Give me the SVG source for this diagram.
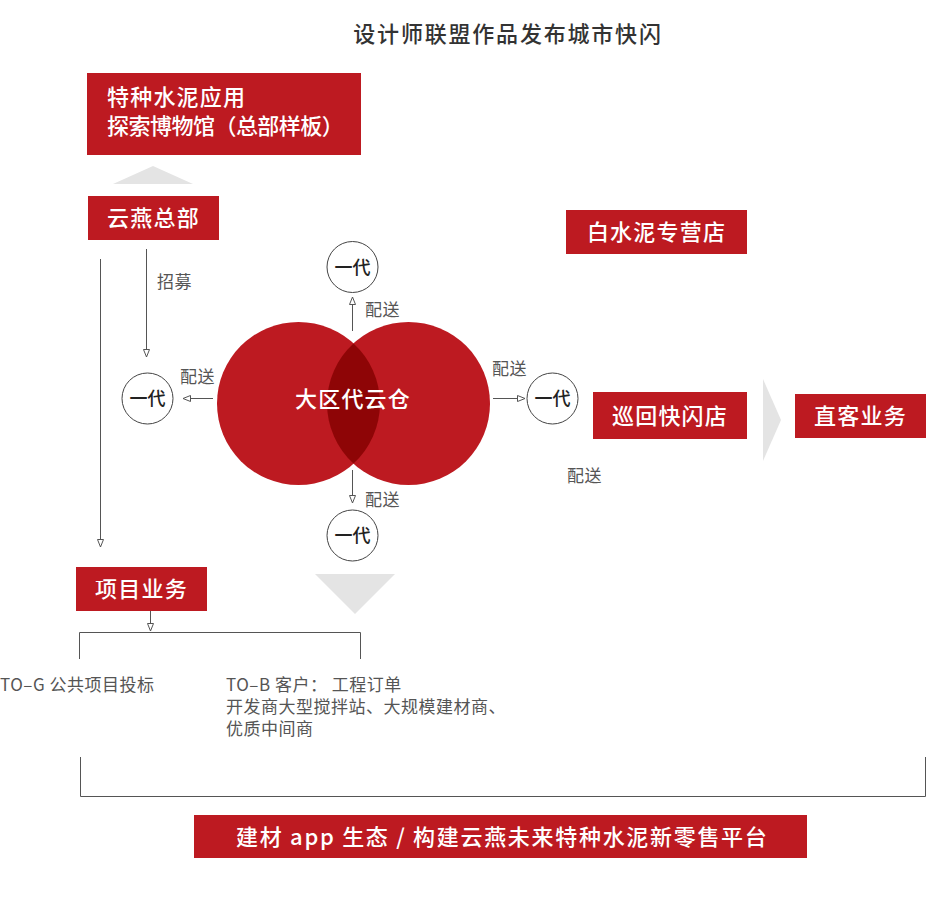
<svg xmlns="http://www.w3.org/2000/svg" width="933" height="905" viewBox="0 0 933 905">
<style>
text{font-family:"Noto Sans CJK SC","Noto Sans",sans-serif}
.box{fill:#BD1A21}
.bt{fill:#fff;font-size:22px;letter-spacing:1.2px;font-weight:500}
.lbl{fill:#555;font-size:17px;letter-spacing:0.5px}
.gen{fill:#fff;stroke:#444;stroke-width:1}
.gt{fill:#222;font-size:18px;text-anchor:middle;font-weight:500}
.ln{fill:none;stroke:#555;stroke-width:1}
.arr{marker-end:url(#ah)}
.tri{fill:#E4E4E4}
</style>
<defs>
<marker id="ah" markerWidth="9" markerHeight="7" refX="8" refY="3.5" orient="auto" markerUnits="userSpaceOnUse">
<path d="M0.5,0.5 L8,3.5 L0.5,6.5 Z" fill="#fff" stroke="#555" stroke-width="1"/>
</marker>
</defs>
<rect width="933" height="905" fill="#fff"/>
<text x="508" y="42" text-anchor="middle" font-size="22" font-weight="500" fill="#333" letter-spacing="1.8">设计师联盟作品发布城市快闪</text>

<g id="connectors">
<path class="ln arr" d="M146.5,249 V357"/>
<path class="ln arr" d="M100.5,259 V547"/>
<path class="ln arr" d="M352.5,331 V297"/>
<path class="ln arr" d="M213,398.5 H183"/>
<path class="ln arr" d="M493,398.5 H525"/>
<path class="ln arr" d="M352.5,470 V503"/>
<path class="ln arr" d="M150.5,611 V631"/>
<path class="ln" d="M79.5,659 V632.5 H360.5 V659"/>
<path class="ln" d="M80.5,757 V796.5 H925.5 V757"/>
<text class="lbl" x="157" y="288">招募</text>
<text class="lbl" x="365" y="316">配送</text>
<text class="lbl" x="180" y="383">配送</text>
<text class="lbl" x="492" y="375">配送</text>
<text class="lbl" x="365" y="506">配送</text>
<text class="lbl" x="567" y="482">配送</text>
</g>

<g id="museum">
<rect class="box" x="87" y="73" width="274" height="82"/>
<text class="bt" x="107" y="105">特种水泥应用</text>
<text class="bt" x="107" y="134" textLength="238" lengthAdjust="spacing">探索博物馆（总部样板）</text>
</g>
<polygon id="tri-up" class="tri" points="113,184 153,166 193,184"/>
<g id="hq">
<rect class="box" x="88" y="196" width="131" height="44"/>
<text class="bt" x="153.5" y="226" text-anchor="middle">云燕总部</text>
</g>
<g id="white-cement">
<rect class="box" x="566" y="210" width="181" height="44"/>
<text class="bt" x="656.5" y="240" text-anchor="middle">白水泥专营店</text>
</g>
<g id="popup">
<rect class="box" x="593" y="392" width="154" height="47"/>
<text class="bt" x="670" y="423.5" text-anchor="middle">巡回快闪店</text>
</g>
<polygon id="chevron" class="tri" points="763,379 781,420 763,461"/>
<g id="direct">
<rect class="box" x="795" y="394" width="131" height="44"/>
<text class="bt" x="860.5" y="424" text-anchor="middle">直客业务</text>
</g>
<g id="warehouse">
<circle cx="298.5" cy="403.5" r="81.5" fill="#BD1A21"/>
<circle cx="408.5" cy="403.5" r="81.5" fill="#BD1A21"/>
<path d="M353.5,343.4 A81.5,81.5 0 0 1 353.5,463.6 A81.5,81.5 0 0 1 353.5,343.4 Z" fill="#8E0506"/>
<text class="bt" x="353" y="407" text-anchor="middle">大区代云仓</text>
</g>
<g id="gen-top"><circle class="gen" cx="352.5" cy="267" r="25.5"/><text class="gt" x="352.5" y="273.5">一代</text></g>
<g id="gen-left"><circle class="gen" cx="147.5" cy="398.5" r="25.5"/><text class="gt" x="147.5" y="405">一代</text></g>
<g id="gen-right"><circle class="gen" cx="552.5" cy="398.5" r="25.5"/><text class="gt" x="552.5" y="405">一代</text></g>
<g id="gen-bottom"><circle class="gen" cx="352.5" cy="535.5" r="25.5"/><text class="gt" x="352.5" y="542">一代</text></g>
<polygon id="tri-down" class="tri" points="315,574 395,574 355,614"/>
<g id="project">
<rect class="box" x="76" y="567" width="131" height="44"/>
<text class="bt" x="141.5" y="597" text-anchor="middle">项目业务</text>
</g>
<g id="to-g"><text class="lbl" x="0" y="691">TO–G 公共项目投标</text></g>
<g id="to-b">
<text class="lbl" x="226" y="691">TO–B 客户： 工程订单</text>
<text class="lbl" x="226" y="713">开发商大型搅拌站、大规模建材商、</text>
<text class="lbl" x="226" y="735">优质中间商</text>
</g>
<g id="platform">
<rect class="box" x="194" y="815" width="613" height="43"/>
<text class="bt" x="236" y="844.5" textLength="532" lengthAdjust="spacing">建材 app 生态 / 构建云燕未来特种水泥新零售平台</text>
</g>
</svg>
